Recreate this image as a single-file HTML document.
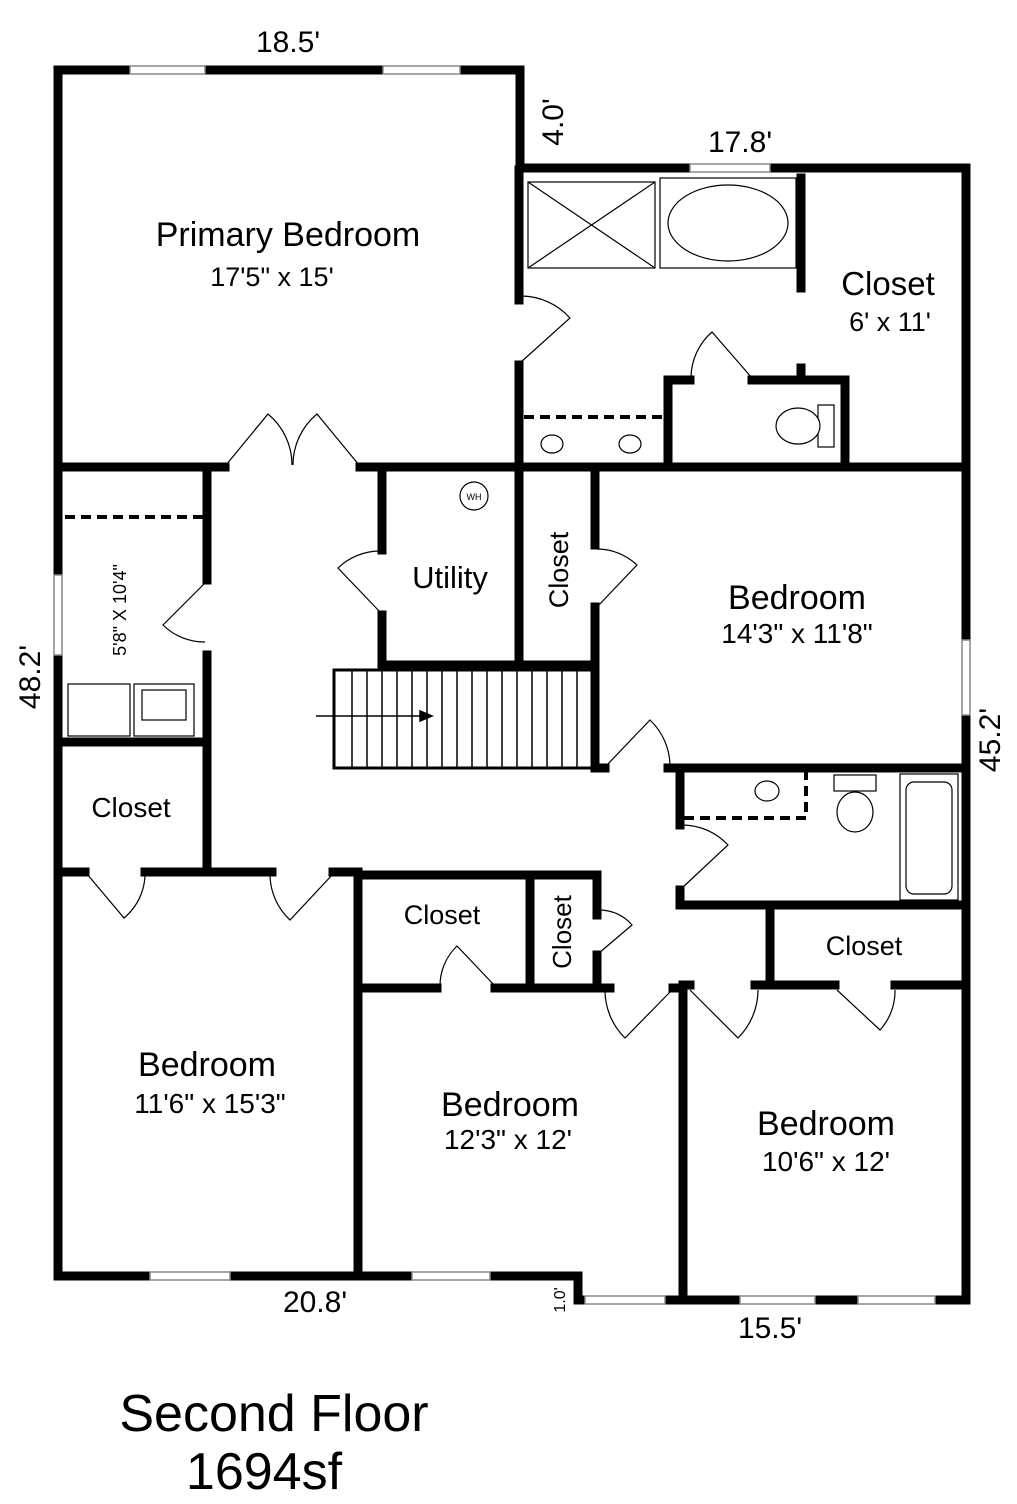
<!DOCTYPE html>
<html><head><meta charset="utf-8"><style>
html,body{margin:0;padding:0;background:#fff;}
svg{display:block;font-family:"Liberation Sans",sans-serif;}
</style></head><body>
<svg width="1017" height="1504" viewBox="0 0 1017 1504" xmlns="http://www.w3.org/2000/svg">
<rect width="1017" height="1504" fill="#fff"/>
<g stroke="#000" stroke-width="9" stroke-linecap="square" fill="none">
<path d="M58 70 H130 M205 70 H383 M460 70 H520 V168 H690 M770 168 H966 V640 M966 715 V1300 H935 M858 1300 H815 M740 1300 H665 M585 1300 H578 V1276 H490 M412 1276 H230 M150 1276 H58 V655 M58 575 V70"/>
<path d="M58 467 H225 M360 467 H966"/>
<path d="M519 170 V300 M519 365 V467"/>
<path d="M207 467 V580 M207 655 V870"/>
<path d="M58 742 H207"/>
<path d="M58 872 H85 M145 872 H272 M333 872 H358"/>
<path d="M382 467 V550 M382 615 V665 H595"/>
<path d="M519 467 V665"/>
<path d="M595 467 V545 M595 607 V768 H605 M668 768 H966"/>
<path d="M680 768 V825 M680 890 V905 H966"/>
<path d="M770 905 V985"/>
<path d="M683 985 H690 M755 985 H835 M895 985 H966"/>
<path d="M358 875 H597 V915 M597 955 V988"/>
<path d="M530 875 V988"/>
<path d="M358 988 H437 M495 988 H610 M673 988 H683"/>
<path d="M358 875 V1276"/>
<path d="M683 985 V1300"/>
<path d="M668 467 V380 H690 M752 380 H845 V467"/>
<path d="M801 178 V288 M801 368 V380"/>
</g>
<g stroke="#000" stroke-width="4" stroke-dasharray="10,6" fill="none">
<path d="M65 517 H205"/>
<path d="M524 417 H664"/>
<path d="M684 818 H806 V772"/>
</g>
<g stroke="#888" stroke-width="1.5" fill="#fff">
<rect x="130" y="66" width="75" height="8"/><rect x="383" y="66" width="77" height="8"/>
<rect x="690" y="164" width="80" height="8"/><rect x="54" y="575" width="8" height="80"/>
<rect x="962" y="640" width="8" height="75"/><rect x="150" y="1272" width="80" height="8"/>
<rect x="412" y="1272" width="78" height="8"/><rect x="585" y="1296" width="80" height="8"/>
<rect x="740" y="1296" width="75" height="8"/><rect x="858" y="1296" width="77" height="8"/>
</g>
<g stroke="#000" stroke-width="1.2" fill="none">
<path d="M226 465 L268 414 A66 66 0 0 1 292 465"/>
<path d="M359 465 L317 414 A66 66 0 0 0 293 465"/>
<path d="M521 362 L570 318 A66 66 0 0 0 521 296"/>
<path d="M205 583 L163 625 A59 59 0 0 0 205 642"/>
<path d="M380 612 L338 568 A61 61 0 0 1 380 551"/>
<path d="M597 607 L637 565 A58 58 0 0 0 597 549"/>
<path d="M606 766 L650 720 A64 64 0 0 1 670 766"/>
<path d="M752 378 L712 332 A61 61 0 0 0 691 378"/>
<path d="M682 888 L728 845 A63 63 0 0 0 682 825"/>
<path d="M87 874 L124 918 A58 58 0 0 0 145 874"/>
<path d="M333 874 L290 920 A63 63 0 0 1 270 874"/>
<path d="M495 986 L457 946 A55 55 0 0 0 440 986"/>
<path d="M599 953 L632 925 A43 43 0 0 0 599 910"/>
<path d="M672 990 L625 1038 A67 67 0 0 1 605 990"/>
<path d="M690 990 L738 1038 A68 68 0 0 0 758 990"/>
<path d="M837 990 L880 1030 A58 58 0 0 0 895 990"/>
</g>
<g stroke="#000" stroke-width="1.2" fill="#fff">
<rect x="528" y="182" width="127" height="86"/><path d="M528 182 L655 268 M655 182 L528 268"/>
<rect x="660" y="178" width="136" height="90"/><ellipse cx="728" cy="223" rx="60" ry="38"/>
<rect x="818" y="405" width="16" height="42"/><ellipse cx="798" cy="426" rx="22" ry="18"/>
<ellipse cx="552" cy="444" rx="11" ry="9"/><ellipse cx="630" cy="444" rx="11" ry="9"/>
<circle cx="474" cy="496" r="14"/>
<rect x="68" y="684" width="62" height="52"/><rect x="134" y="684" width="60" height="52"/><rect x="142" y="690" width="44" height="30"/>
<ellipse cx="767" cy="791" rx="12" ry="10"/>
<rect x="834" y="775" width="42" height="16"/><ellipse cx="855" cy="812" rx="18" ry="20"/>
<rect x="900" y="774" width="58" height="126"/><rect x="906" y="782" width="46" height="112" rx="8"/>
</g>
<text x="474" y="500" font-size="9" text-anchor="middle">WH</text>
<g stroke="#000" stroke-width="1.5" fill="none">
<rect x="334" y="670" width="259" height="98" stroke-width="3"/>
<path d="M352 670V768 M367 670V768 M382 670V768 M397 670V768 M412 670V768 M427 670V768 M442 670V768 M457 670V768 M472 670V768 M487 670V768 M502 670V768 M517 670V768 M532 670V768 M547 670V768 M562 670V768 M577 670V768"/>
<path d="M316 716 H428"/><path d="M420 711 L432 716 L420 721 Z" fill="#000"/>
</g>
<g fill="#000" text-anchor="middle">
<text x="288" y="246" font-size="34">Primary Bedroom</text>
<text x="272" y="286" font-size="27">17'5" x 15'</text>
<text x="888" y="295" font-size="33">Closet</text>
<text x="890" y="331" font-size="27">6' x 11'</text>
<text x="450" y="588" font-size="31">Utility</text>
<text x="797" y="609" font-size="34">Bedroom</text>
<text x="797" y="643" font-size="28">14'3" x 11'8"</text>
<text x="131" y="817" font-size="28">Closet</text>
<text x="442" y="924" font-size="27">Closet</text>
<text x="864" y="955" font-size="27">Closet</text>
<text x="207" y="1076" font-size="34">Bedroom</text>
<text x="210" y="1113" font-size="28">11'6" x 15'3"</text>
<text x="510" y="1116" font-size="34">Bedroom</text>
<text x="508" y="1149" font-size="28">12'3" x 12'</text>
<text x="826" y="1135" font-size="34">Bedroom</text>
<text x="826" y="1171" font-size="28">10'6" x 12'</text>
<text x="288" y="52" font-size="30">18.5'</text>
<text x="740" y="152" font-size="30">17.8'</text>
<text x="315" y="1312" font-size="30">20.8'</text>
<text x="770" y="1338" font-size="30">15.5'</text>
<text x="274" y="1431" font-size="52">Second Floor</text>
<text x="264" y="1489" font-size="52">1694sf</text>
<text transform="translate(568,570) rotate(-90)" font-size="27">Closet</text>
<text transform="translate(571,932) rotate(-90)" font-size="26">Closet</text>
<text transform="translate(126,610) rotate(-90)" font-size="18">5'8" X 10'4"</text>
<text transform="translate(40,677) rotate(-90)" font-size="30">48.2'</text>
<text transform="translate(1000,740) rotate(-90)" font-size="30">45.2'</text>
<text transform="translate(563,122) rotate(-90)" font-size="30">4.0'</text>
<text transform="translate(565,1300) rotate(-90)" font-size="16">1.0'</text>
</g>
</svg>
</body></html>
